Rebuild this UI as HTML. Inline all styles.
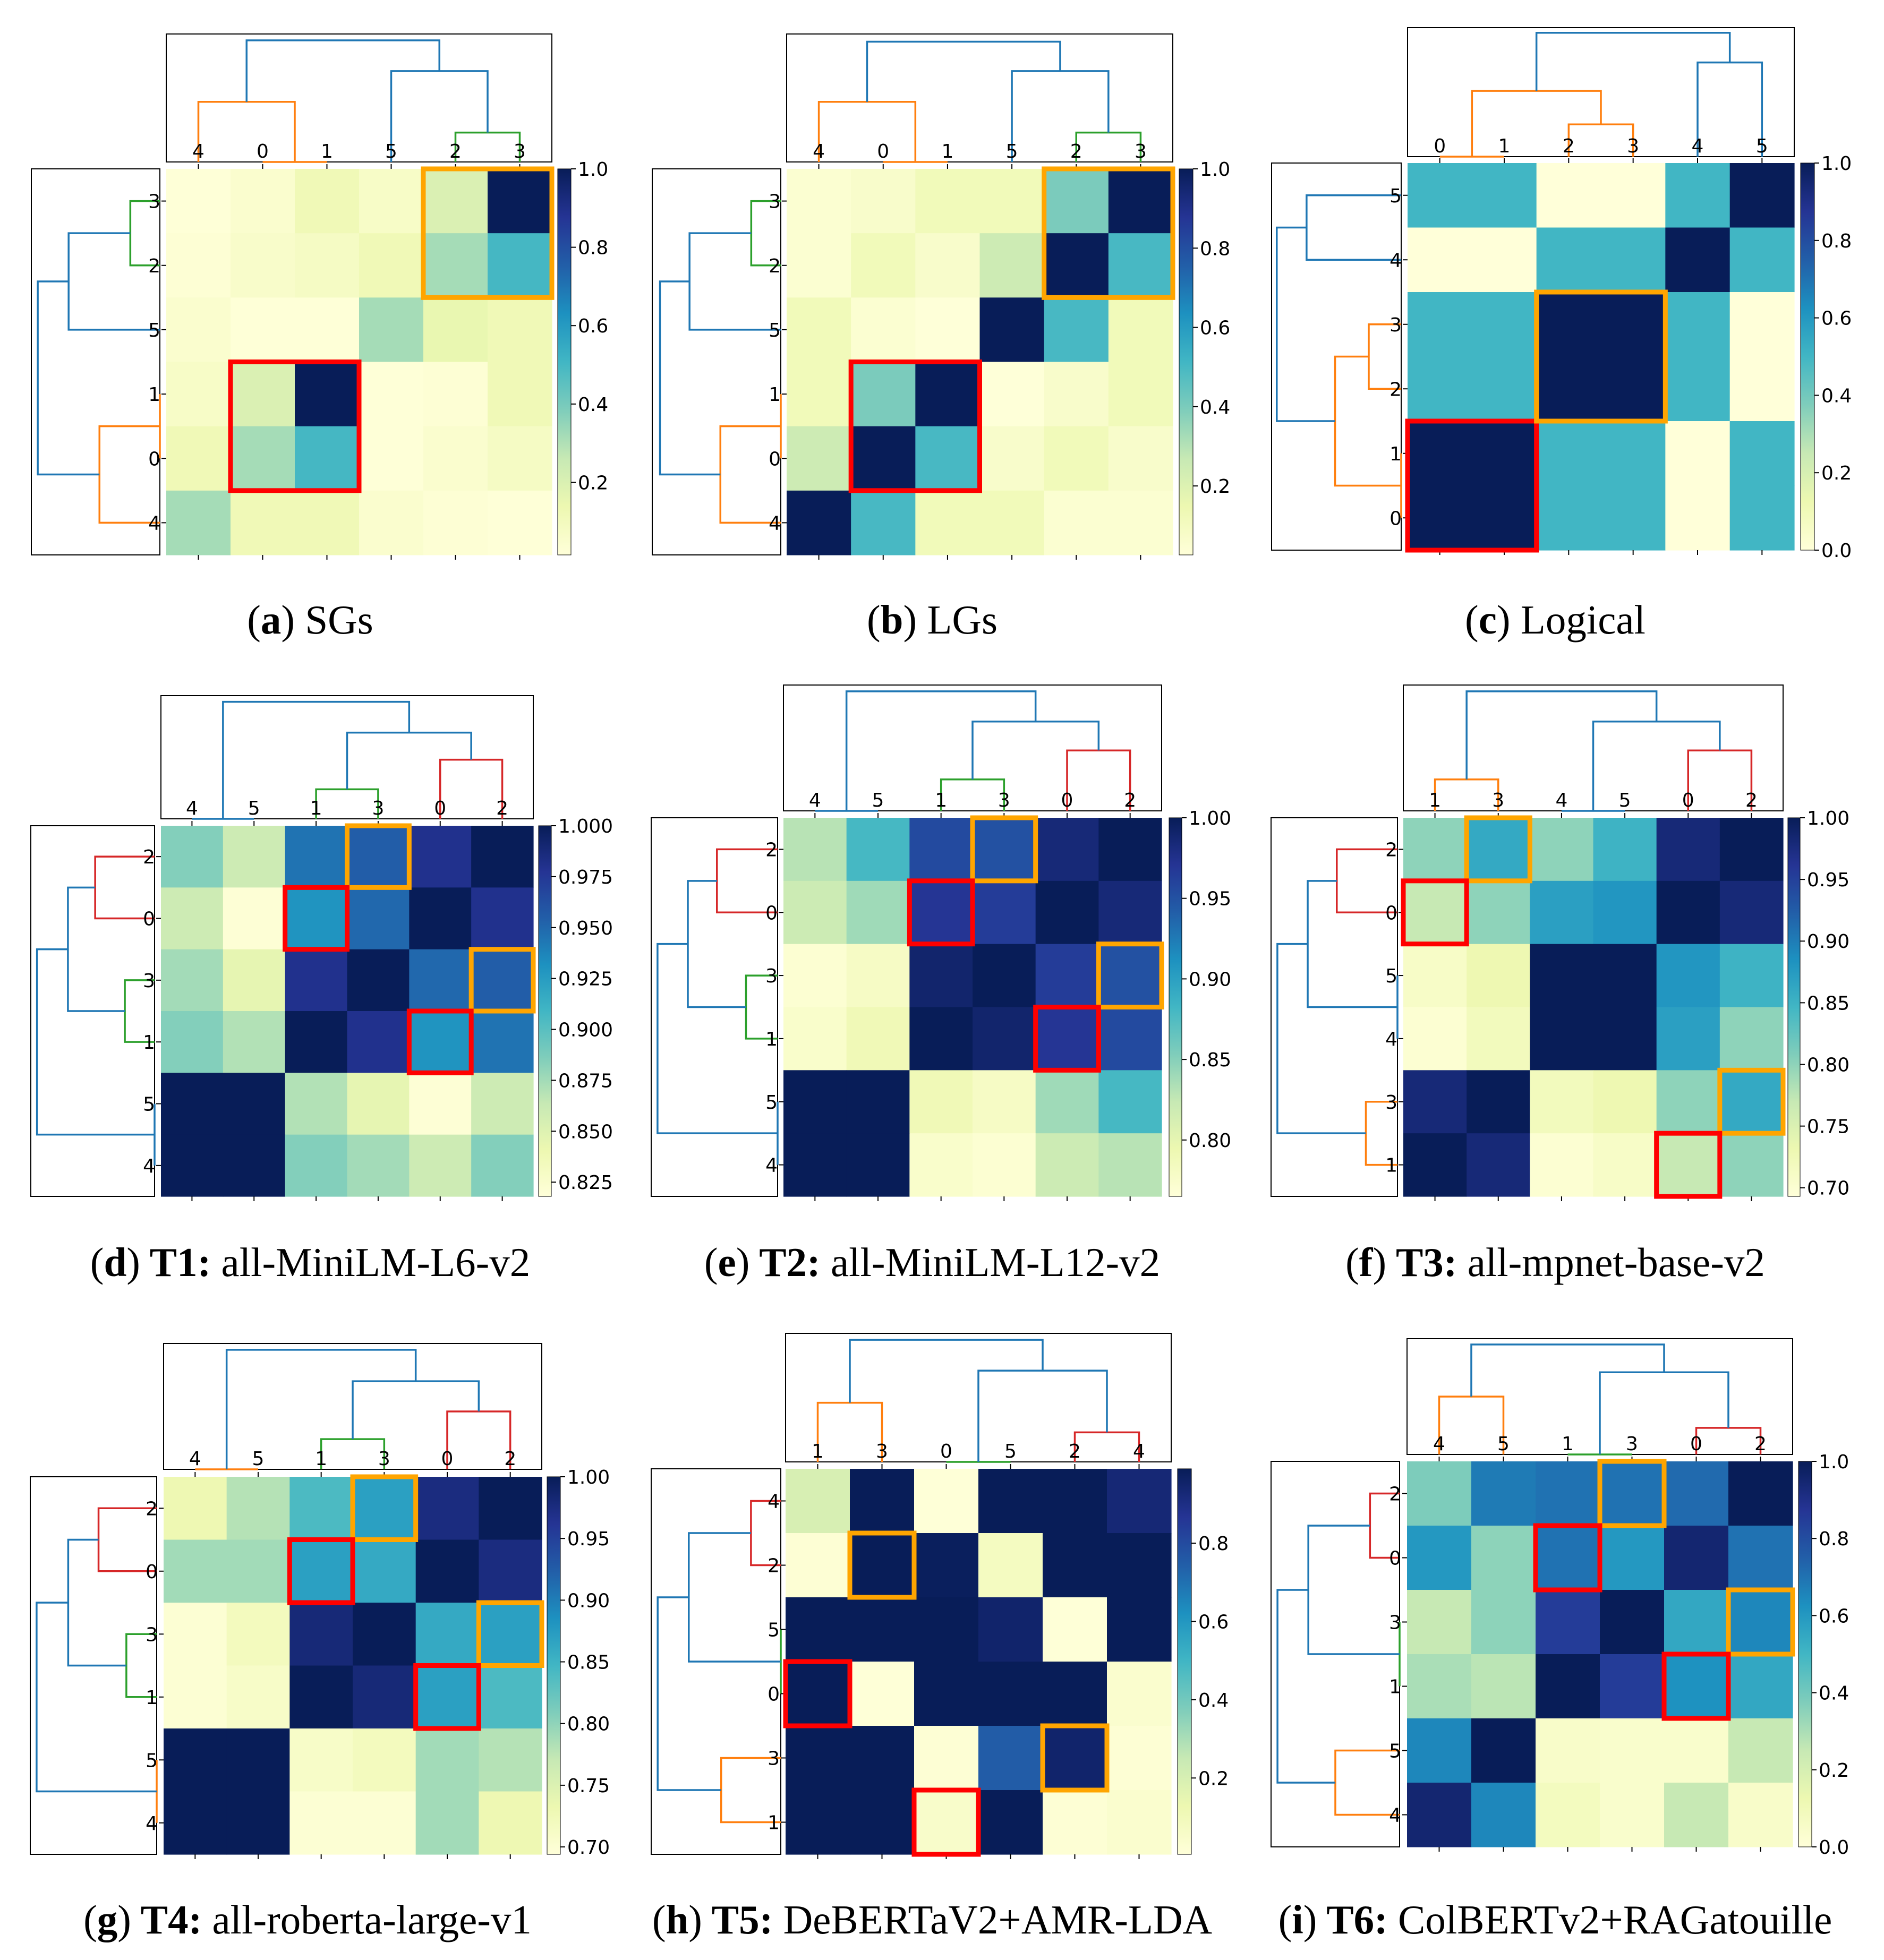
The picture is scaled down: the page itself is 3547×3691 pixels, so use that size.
<!DOCTYPE html>
<html><head><meta charset="utf-8">
<style>
html,body{margin:0;padding:0;background:#fff;}
svg{display:block;}
text{font-family:"DejaVu Sans","Liberation Sans",sans-serif;}
.cap{font-family:"Liberation Serif",serif;font-size:77px;}
</style></head>
<body>
<svg id="fig" width="3547" height="3691" viewBox="0 0 3547 3691" xmlns="http://www.w3.org/2000/svg">
<defs>
<linearGradient id="ylgnbu" x1="0" y1="1" x2="0" y2="0">
<stop offset="0" stop-color="#ffffd9"/><stop offset="0.125" stop-color="#edf8b1"/><stop offset="0.25" stop-color="#c7e9b4"/><stop offset="0.375" stop-color="#7fcdbb"/><stop offset="0.5" stop-color="#41b6c4"/><stop offset="0.625" stop-color="#1d91c0"/><stop offset="0.75" stop-color="#225ea8"/><stop offset="0.875" stop-color="#253494"/><stop offset="1" stop-color="#081d58"/>
</linearGradient>
</defs>
</svg>
<script>
// ---------- DATA ----------
const colLabelsA = ['4','0','1','5','2','3'];
const rowLabelsA = ['3','2','5','1','0','4'];
const valuesA = [[.02,.05,.12,.07,.2,1],[.03,.06,.08,.12,.32,.5],[.05,.02,.02,.32,.15,.12],[.07,.2,1,.02,.03,.12],[.12,.32,.5,.02,.05,.08],[.32,.12,.12,.05,.03,.02]];
const ticksA = [0.2,0.4,0.6,0.8,1.0];
const tickTextA = ['0.2','0.4','0.6','0.8','1.0'];

const colLabelsB = ['4','0','1','5','2','3'];
const rowLabelsB = ['3','2','5','1','0','4'];
const valuesB = [[.05,.07,.12,.12,.4,1],[.05,.12,.07,.25,1,.5],[.12,.05,.03,1,.5,.12],[.12,.4,1,.03,.07,.12],[.25,1,.5,.07,.12,.07],[1,.5,.12,.12,.05,.05]];
const ticksB = [0.2,0.4,0.6,0.8,1.0];
const tickTextB = ['0.2','0.4','0.6','0.8','1.0'];

const colLabelsC = ['0','1','2','3','4','5'];
const rowLabelsC = ['5','4','3','2','1','0'];
const valuesC = [[.5,.5,0,0,.5,1],[0,0,.5,.5,1,.5],[.5,.5,1,1,.5,0],[.5,.5,1,1,.5,0],[1,1,.5,.5,0,.5],[1,1,.5,.5,0,.5]];
const ticksC = [0,0.2,0.4,0.6,0.8,1.0];
const tickTextC = ['0.0','0.2','0.4','0.6','0.8','1.0'];

const colLabelsD = ['4','5','1','3','0','2'];
const rowLabelsD = ['2','0','3','1','5','4'];
const valuesD = [[.885,.86,.945,.955,.98,1],[.86,.82,.93,.95,1,.98],[.875,.845,.98,1,.95,.955],[.885,.87,1,.98,.93,.945],[1,1,.87,.845,.82,.86],[1,1,.885,.875,.86,.885]];
const ticksD = [0.825,0.85,0.875,0.9,0.925,0.95,0.975,1.0];
const tickTextD = ['0.825','0.850','0.875','0.900','0.925','0.950','0.975','1.000'];

const colLabelsE = ['4','5','1','3','0','2'];
const rowLabelsE = ['2','0','3','1','5','4'];
const valuesE = [[.83,.88,.955,.95,.985,1],[.82,.84,.97,.965,1,.985],[.77,.78,.99,1,.965,.95],[.775,.79,1,.99,.97,.955],[1,1,.79,.78,.84,.88],[1,1,.775,.77,.82,.83]];
const ticksE = [0.8,0.85,0.9,0.95,1.0];
const tickTextE = ['0.80','0.85','0.90','0.95','1.00'];

const colLabelsF = ['1','3','4','5','0','2'];
const rowLabelsF = ['2','0','5','4','3','1'];
const valuesF = [[.80,.86,.80,.85,.98,1],[.77,.80,.87,.88,1,.98],[.71,.73,1,1,.88,.85],[.70,.72,1,1,.87,.80],[.98,1,.72,.73,.80,.86],[1,.98,.70,.71,.77,.80]];
const ticksF = [0.7,0.75,0.8,0.85,0.9,0.95,1.0];
const tickTextF = ['0.70','0.75','0.80','0.85','0.90','0.95','1.00'];

const colLabelsG = ['4','5','1','3','0','2'];
const rowLabelsG = ['2','0','3','1','5','4'];
const valuesG = [[.73,.78,.84,.87,.975,1],[.79,.79,.87,.86,1,.975],[.70,.72,.98,1,.86,.87],[.70,.71,1,.98,.87,.84],[1,1,.71,.72,.79,.78],[1,1,.70,.70,.79,.73]];
const ticksG = [0.7,0.75,0.8,0.85,0.9,0.95,1.0];
const tickTextG = ['0.70','0.75','0.80','0.85','0.90','0.95','1.00'];

const colLabelsH = ['1','3','0','5','2','4'];
const rowLabelsH = ['4','2','5','0','3','1'];
const valuesH = [[.2,1,.01,1,1,.93],[.02,1,.98,.08,1,1],[1,1,1,.95,.01,1],[1,.01,1,1,1,.04],[1,1,.02,.75,.95,.02],[1,1,.05,1,.02,.04]];
const ticksH = [0.2,0.4,0.6,0.8];
const tickTextH = ['0.2','0.4','0.6','0.8'];

const colLabelsI = ['4','5','1','3','0','2'];
const rowLabelsI = ['2','0','3','1','5','4'];
const valuesI = [[.38,.68,.7,.7,.72,1],[.6,.35,.7,.6,.95,.7],[.25,.35,.85,1,.55,.65],[.3,.27,1,.85,.62,.55],[.65,1,.05,.04,.04,.25],[.95,.65,.08,.04,.25,.05]];
const ticksI = [0,0.2,0.4,0.6,0.8,1.0];
const tickTextI = ['0.0','0.2','0.4','0.6','0.8','1.0'];

// dendrogram trees: [mergeHeight, colour, left, right]; leaves = leaf order index
const treeA = [0.95,'b',[0.47,'o',0,[0,'o',1,2]],[0.71,'b',3,[0.23,'g',4,5]]];
const treeB = [0.94,'b',[0.47,'o',0,[0,'o',1,2]],[0.71,'b',3,[0.23,'g',4,5]]];
const treeC = [0.96,'b',[0.51,'o',[0,'o',0,1],[0.25,'o',2,3]],[0.73,'b',4,5]];
const treeD = [0.95,'b',[0,'b',0,1],[0.70,'b',[0.24,'g',2,3],[0.48,'r',4,5]]];
const treeE = [0.95,'b',[0,'b',0,1],[0.71,'b',[0.25,'g',2,3],[0.48,'r',4,5]]];
const treeF = [0.95,'b',[0.25,'o',0,1],[0.71,'b',[0,'b',2,3],[0.48,'r',4,5]]];
const treeG = [0.95,'b',[0,'o',0,1],[0.70,'b',[0.24,'g',2,3],[0.46,'r',4,5]]];
const treeH = [0.95,'b',[0.46,'o',0,1],[0.71,'b',[0,'g',2,3],[0.23,'r',4,5]]];
const treeI = [0.95,'b',[0.50,'o',0,1],[0.71,'b',[0,'g',2,3],[0.23,'r',4,5]]];

// highlight boxes [col,row,ncols,nrows,colour]
const boxesA = [[1,3,2,2,'red'],[4,0,2,2,'orange']];
const boxesB = [[1,3,2,2,'red'],[4,0,2,2,'orange']];
const boxesC = [[0,4,2,2,'red'],[2,2,2,2,'orange']];
const boxesD = [[3,0,1,1,'orange'],[2,1,1,1,'red'],[5,2,1,1,'orange'],[4,3,1,1,'red']];
const boxesE = [[3,0,1,1,'orange'],[2,1,1,1,'red'],[5,2,1,1,'orange'],[4,3,1,1,'red']];
const boxesF = [[1,0,1,1,'orange'],[0,1,1,1,'red'],[5,4,1,1,'orange'],[4,5,1,1,'red']];
const boxesG = [[3,0,1,1,'orange'],[2,1,1,1,'red'],[5,2,1,1,'orange'],[4,3,1,1,'red']];
const boxesH = [[1,1,1,1,'orange'],[0,3,1,1,'red'],[4,4,1,1,'orange'],[2,5,1,1,'red']];
const boxesI = [[3,0,1,1,'orange'],[2,1,1,1,'red'],[5,2,1,1,'orange'],[4,3,1,1,'red']];

// ---------- LAYOUT ----------
const panels = [
 {id:'a',cols:colLabelsA,rows:rowLabelsA,vals:valuesA,ticks:ticksA,tt:tickTextA,tree:treeA,boxes:boxesA,vmin:.015,vmax:1,
  hx:313,hy:318,hw:726,hh:727,tt0:64,tb:305,ll:59,lr:301,cbx:1050,cbw:25,cap:['(a)',' SGs',''],capx:584,capy:1193},
 {id:'b',cols:colLabelsB,rows:rowLabelsB,vals:valuesB,ticks:ticksB,tt:tickTextB,tree:treeB,boxes:boxesB,vmin:.026,vmax:1,
  hx:1481,hy:318,hw:727,hh:727,tt0:64,tb:305,ll:1228,lr:1470,cbx:2220,cbw:26,cap:['(b)',' LGs',''],capx:1755,capy:1193},
 {id:'c',cols:colLabelsC,rows:rowLabelsC,vals:valuesC,ticks:ticksC,tt:tickTextC,tree:treeC,boxes:boxesC,vmin:0,vmax:1,
  hx:2650,hy:307,hw:728,hh:729,tt0:52,tb:295,ll:2394,lr:2638,cbx:3390,cbw:26,cap:['(c)',' Logical',''],capx:2928,capy:1193},
 {id:'d',cols:colLabelsD,rows:rowLabelsD,vals:valuesD,ticks:ticksD,tt:tickTextD,tree:treeD,boxes:boxesD,vmin:.818,vmax:1,
  hx:303,hy:1555,hw:701,hh:698,tt0:1310,tb:1542,ll:58,lr:291,cbx:1014,cbw:24,cap:['(d)',' T1:',' all-MiniLM-L6-v2'],capx:584,capy:2403},
 {id:'e',cols:colLabelsE,rows:rowLabelsE,vals:valuesE,ticks:ticksE,tt:tickTextE,tree:treeE,boxes:boxesE,vmin:.765,vmax:1,
  hx:1475,hy:1540,hw:712,hh:713,tt0:1290,tb:1527,ll:1226,lr:1464,cbx:2201,cbw:24,cap:['(e)',' T2:',' all-MiniLM-L12-v2'],capx:1755,capy:2403},
 {id:'f',cols:colLabelsF,rows:rowLabelsF,vals:valuesF,ticks:ticksF,tt:tickTextF,tree:treeF,boxes:boxesF,vmin:.693,vmax:1,
  hx:2642,hy:1540,hw:715,hh:713,tt0:1290,tb:1527,ll:2393,lr:2631,cbx:3366,cbw:23,cap:['(f)',' T3:',' all-mpnet-base-v2'],capx:2928,capy:2403},
 {id:'g',cols:colLabelsG,rows:rowLabelsG,vals:valuesG,ticks:ticksG,tt:tickTextG,tree:treeG,boxes:boxesG,vmin:.694,vmax:1,
  hx:308,hy:2781,hw:712,hh:711,tt0:2530,tb:2767,ll:57,lr:295,cbx:1030,cbw:25,cap:['(g)',' T4:',' all-roberta-large-v1'],capx:579,capy:3641},
 {id:'h',cols:colLabelsH,rows:rowLabelsH,vals:valuesH,ticks:ticksH,tt:tickTextH,tree:treeH,boxes:boxesH,vmin:.005,vmax:.99,
  hx:1479,hy:2766,hw:726,hh:726,tt0:2511,tb:2753,ll:1226,lr:1470,cbx:2217,cbw:26,cap:['(h)',' T5:',' DeBERTaV2+AMR-LDA'],capx:1755,capy:3641},
 {id:'i',cols:colLabelsI,rows:rowLabelsI,vals:valuesI,ticks:ticksI,tt:tickTextI,tree:treeI,boxes:boxesI,vmin:0,vmax:1,
  hx:2649,hy:2752,hw:726,hh:726,tt0:2521,tb:2739,ll:2393,lr:2635,cbx:3386,cbw:25,cap:['(i)',' T6:',' ColBERTv2+RAGatouille'],capx:2928,capy:3641}
];

const NS='http://www.w3.org/2000/svg';
const svg=document.getElementById('fig');
const stops=[[0,[255,255,217]],[.125,[237,248,177]],[.25,[199,233,180]],[.375,[127,205,187]],[.5,[65,182,196]],[.625,[29,145,192]],[.75,[34,94,168]],[.875,[37,52,148]],[1,[8,29,88]]];
const lineCol={b:'#1f77b4',o:'#ff7f0e',g:'#2ca02c',r:'#d62728'};
function cmap(t){t=Math.max(0,Math.min(1,t));for(let i=1;i<stops.length;i++){if(t<=stops[i][0]){const a=stops[i-1],b=stops[i];const f=(t-a[0])/(b[0]-a[0]);const c=a[1].map((v,k)=>Math.round(v+(b[1][k]-v)*f));return 'rgb('+c.join(',')+')';}}return 'rgb(8,29,88)';}
function el(tag,attrs,parent){const e=document.createElementNS(NS,tag);for(const k in attrs)e.setAttribute(k,attrs[k]);(parent||svg).appendChild(e);return e;}

function drawTree(node,g,X,Y,horizontal){
  if(typeof node==='number') return {p:node,h:0};
  const L=drawTree(node[2],g,X,Y,horizontal), R=drawTree(node[3],g,X,Y,horizontal);
  const h=node[0];
  let d;
  if(!horizontal) d=`M${X(L.p)},${Y(L.h)}V${Y(h)}H${X(R.p)}V${Y(R.h)}`;
  else d=`M${Y(L.h)},${X(L.p)}H${Y(h)}V${X(R.p)}H${Y(R.h)}`;
  const path=el('path',{d:d,fill:'none',stroke:lineCol[node[1]],'stroke-width':3.5},g);
  
  
  return {p:(L.p+R.p)/2,h:h};
}

panels.forEach(P=>{
  const g=el('g',{});
  
  
  const n=P.cols.length, cw=P.hw/n, ch=P.hh/n;
  const xS=c=>P.hx+c*cw, yS=r=>P.hy+r*ch;
  P.vals.forEach((row,r)=>row.forEach((v,c)=>{
    const rect=el('rect',{x:xS(c),y:yS(r),width:cw+0.6,height:ch+0.6,fill:cmap((v-P.vmin)/(P.vmax-P.vmin))},g);
    
    
  }));
  const tb=el('rect',{x:P.hx,y:P.tt0,width:P.hw,height:P.tb-P.tt0,fill:'none',stroke:'#000','stroke-width':2},g);
  
  
  const lb=el('rect',{x:P.ll,y:P.hy,width:P.lr-P.ll,height:P.hh,fill:'none',stroke:'#000','stroke-width':2},g);
  
  
  const topH=P.tb-P.tt0;
  drawTree(P.tree,g,p=>P.hx+(p+0.5)*cw,h=>P.tb-h*topH,false);
  const leftW=P.lr-P.ll;
  drawTree(P.tree,g,p=>P.hy+P.hh-(p+0.5)*ch,h=>P.lr-h*leftW,true);
  P.cols.forEach((lab,c)=>{
    const cx=xS(c)+cw/2;
    el('line',{x1:cx,y1:P.hy,x2:cx,y2:P.hy-9,stroke:'#000','stroke-width':2},g);
    el('line',{x1:cx,y1:P.hy+P.hh,x2:cx,y2:P.hy+P.hh+9,stroke:'#000','stroke-width':2},g);
    const t=el('text',{x:cx,y:P.tb-8,'font-size':36,'text-anchor':'middle'},g);
    t.textContent=lab;
    
    
  });
  P.rows.forEach((lab,r)=>{
    const cy=yS(r)+ch/2;
    el('line',{x1:P.hx,y1:cy,x2:P.hx-9,y2:cy,stroke:'#000','stroke-width':2},g);
    const t=el('text',{x:P.hx-11,y:cy+13,'font-size':36,'text-anchor':'end'},g);
    t.textContent=lab;
    
    
  });
  P.boxes.forEach(b=>{
    const r=el('rect',{x:xS(b[0]),y:yS(b[1]),width:b[2]*cw,height:b[3]*ch,fill:'none',stroke:b[4]==='red'?'#ff0000':'#ffa500','stroke-width':9},g);
    
    
  });
  const cb=el('rect',{x:P.cbx,y:P.hy,width:P.cbw,height:P.hh,fill:'url(#ylgnbu)',stroke:'#000','stroke-width':1},g);
  
  
  P.ticks.forEach((v,i)=>{
    const y=P.hy+P.hh-(v-P.vmin)/(P.vmax-P.vmin)*P.hh;
    el('line',{x1:P.cbx+P.cbw,y1:y,x2:P.cbx+P.cbw+9,y2:y,stroke:'#000','stroke-width':2},g);
    const t=el('text',{x:P.cbx+P.cbw+13,y:y+13,'font-size':36},g);
    t.textContent=P.tt[i];
    
    
  });
  const cap=el('text',{x:P.capx,y:P.capy,'text-anchor':'middle',class:'cap'},g);
  
  
  const m=P.cap[0].match(/\((.)\)/)[1];
  const s1=el('tspan',{},cap); s1.textContent='(';
  const s2=el('tspan',{'font-weight':'bold'},cap); s2.textContent=m;
  const s3=el('tspan',{},cap); s3.textContent=')';
  const s4=el('tspan',{'font-weight':P.cap[2]?'bold':'normal'},cap); s4.textContent=P.cap[1];
  if(P.cap[2]){const s5=el('tspan',{},cap); s5.textContent=P.cap[2];}
});
</script>
</body></html>
